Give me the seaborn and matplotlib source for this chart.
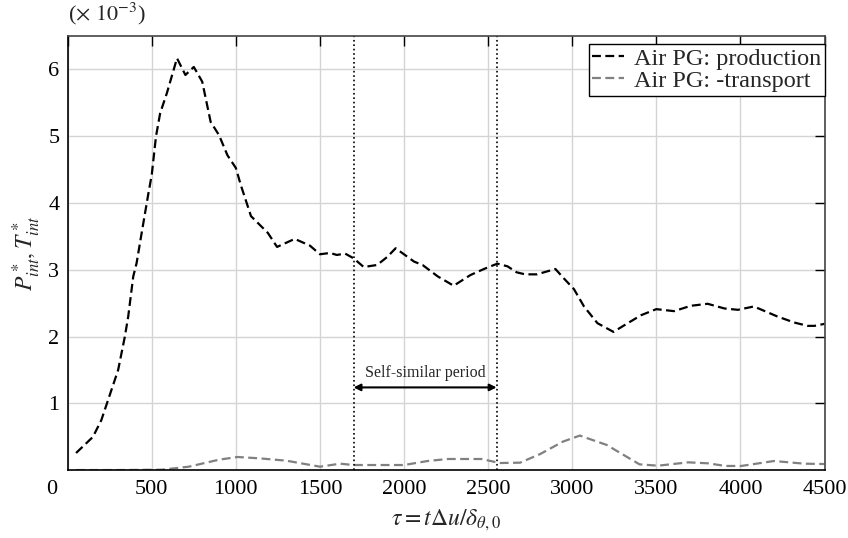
import matplotlib
matplotlib.use("Agg")
import matplotlib.pyplot as plt
import matplotlib.transforms as mtransforms
import seaborn as sns
import pandas as pd

# data (values in units of 1e-3)
prod_x = [50, 150, 200, 260, 300, 340, 360, 390, 410, 440, 480, 500, 525, 550, 590,
          650, 700, 750, 800, 850, 900, 950, 1000, 1030, 1090, 1190, 1245, 1350, 1440,
          1500, 1560, 1600, 1650, 1700, 1760, 1840, 1900, 1950, 2060, 2110, 2200, 2295,
          2395, 2475, 2555, 2615, 2670, 2720, 2790, 2900, 2950, 3010, 3070, 3150, 3245,
          3330, 3410, 3500, 3605, 3705, 3805, 3905, 3985, 4080, 4220, 4320, 4400, 4440, 4500]
prod_y = [0.26, 0.50, 0.75, 1.20, 1.50, 2.00, 2.30, 2.90, 3.10, 3.55, 4.14, 4.42, 4.99, 5.34, 5.64,
          6.16, 5.91, 6.03, 5.81, 5.21, 5.01, 4.71, 4.52, 4.26, 3.80, 3.55, 3.34, 3.46, 3.36,
          3.23, 3.25, 3.22, 3.24, 3.17, 3.04, 3.07, 3.19, 3.32, 3.12, 3.07, 2.90, 2.76,
          2.92, 3.01, 3.09, 3.05, 2.96, 2.93, 2.93, 3.01, 2.87, 2.71, 2.45, 2.20, 2.07,
          2.20, 2.32, 2.41, 2.38, 2.46, 2.49, 2.42, 2.40, 2.45, 2.30, 2.21, 2.16, 2.16, 2.19]

trans_x = [50, 300, 560, 720, 900, 1010, 1140, 1300, 1500, 1620, 1700, 2000, 2140, 2260,
           2460, 2570, 2690, 2810, 2945, 3045, 3205, 3400, 3510, 3690, 3810, 3910, 4005,
           4200, 4380, 4500]
trans_y = [0.005, 0.005, 0.01, 0.055, 0.16, 0.20, 0.18, 0.145, 0.055, 0.10, 0.08, 0.08, 0.14, 0.17,
           0.17, 0.11, 0.115, 0.245, 0.43, 0.52, 0.38, 0.09, 0.07, 0.12, 0.105, 0.066, 0.066,
           0.14, 0.10, 0.095]

period_start, period_end = 1700, 2550
x_ticks = [0, 500, 1000, 1500, 2000, 2500, 3000, 3500, 4000, 4500]
y_ticks = [1, 2, 3, 4, 5, 6]

prod = pd.DataFrame({"tau": prod_x, "val": prod_y})
trans = pd.DataFrame({"tau": trans_x, "val": trans_y})

sns.set_style("white")
plt.rcParams["font.family"] = ["Liberation Serif", "DejaVu Serif"]
plt.rcParams["mathtext.fontset"] = "stix"

fig = plt.figure(figsize=(8.48, 5.38), dpi=100)
ax = fig.add_axes([0.0798, 0.1257, 0.8925, 0.8083])

sns.lineplot(data=prod, x="tau", y="val", ax=ax, color="black", lw=1.6,
             linestyle=(0, (4, 2)), label="Air PG: production", sort=False)
sns.lineplot(data=trans, x="tau", y="val", ax=ax, color="#808080", lw=1.6,
             linestyle=(0, (4, 2)), label="Air PG: -transport", sort=False)

# self-similar period
ax.axvline(period_start, color="black", ls=":", lw=1.2)
ax.axvline(period_end, color="black", ls=":", lw=1.2)
ax.annotate("", xy=(period_start, 1.24), xytext=(period_end, 1.24),
            arrowprops=dict(arrowstyle="<|-|>", color="black", lw=1.5,
                            mutation_scale=10, shrinkA=0, shrinkB=0))
ax.text((period_start + period_end) / 2, 1.34, "Self-similar period",
        ha="center", va="bottom", fontsize=11.5)

ax.set_xlim(0, 4500)
ax.set_ylim(0, 6.5)
ax.set_xticks(x_ticks)
ax.set_yticks(y_ticks)
ax.set_xticklabels([str(t) for t in x_ticks])
ax.set_yticklabels([str(t) for t in y_ticks])
ax.grid(True, color="#d4d4d4", lw=1)
ax.tick_params(direction="in", length=7, width=1, labelsize=16,
               top=True, right=True, colors="black")
ax.tick_params(axis="y", pad=6)
ax.tick_params(axis="x", pad=7)

# shift the 0 label left of the corner, like the original
lbl0 = ax.get_xticklabels()[0]
lbl0.set_transform(lbl0.get_transform() +
                   mtransforms.ScaledTranslation(-0.16, 0, fig.dpi_scale_trans))

for s in ["left", "bottom"]:
    ax.spines[s].set_color("black")
    ax.spines[s].set_linewidth(1.2)
for s in ["top", "right"]:
    ax.spines[s].set_color("#444444")
    ax.spines[s].set_linewidth(1.2)

ax.set_xlabel(r"$\tau = t\Delta u/\delta_{\theta,0}$", fontsize=17, labelpad=6)
ax.set_ylabel(r"$P^*_{int}, T^*_{int}$", fontsize=17, labelpad=4)
ax.text(0, 1.02, r"($\times\ 10^{-3}$)", transform=ax.transAxes,
        ha="left", va="bottom", fontsize=16)

leg = ax.legend(loc="upper right", bbox_to_anchor=(1.0, 0.98), borderaxespad=0,
                fontsize=17.5, frameon=True, fancybox=False, framealpha=1,
                edgecolor="black", borderpad=0.15, labelspacing=0.0,
                handlelength=1.3, handletextpad=0.4)
leg.get_frame().set_linewidth(1.0)

fig.savefig("out.png", dpi=100)
